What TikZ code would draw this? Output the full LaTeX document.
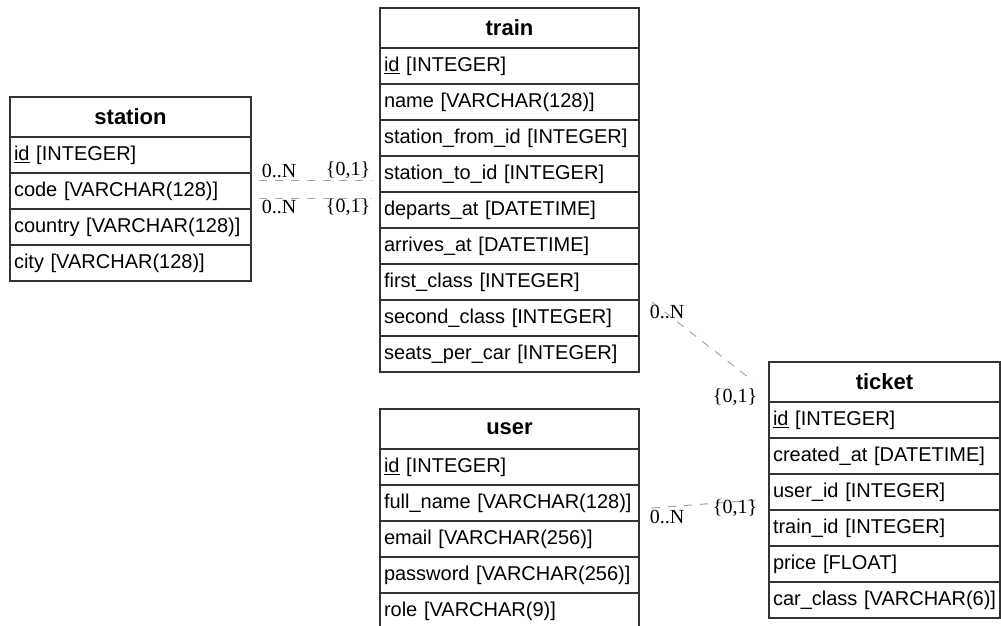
\documentclass[tikz,border=0pt]{standalone}
\usepackage{fontspec}
\setmainfont{Liberation Sans}
\newfontfamily\cardfont{Liberation Serif}
\usetikzlibrary{positioning,calc}
\tikzset{
  field/.style={draw=black!80, line width=1.1pt, rectangle, outer sep=0pt, inner xsep=4pt, inner ysep=0pt, minimum height=36pt, align=left, font=\fontsize{20}{24}\selectfont},
  head/.style={field, minimum height=40pt, align=center, font=\fontsize{22}{26}\selectfont\bfseries},
  rel/.style={draw=black!35, line width=1pt, dash pattern=on 8pt off 8pt},
  card/.style={font=\cardfont\fontsize{20}{23}\selectfont, inner sep=0pt},
}

\begin{document}
\begin{tikzpicture}[x=1pt,y=-1pt]
    \useasboundingbox (0,0) rectangle (1001,625);

    % station
    \node[head, text width=233pt, anchor=north west] (station) at (10,97) {station};
    \node[field, text width=233pt, below=0pt of station] (station-id) {\underline{id} [INTEGER]};
    \node[field, text width=233pt, below=0pt of station-id] (station-code) {code [VARCHAR(128)]};
    \node[field, text width=233pt, below=0pt of station-code] (station-country) {country [VARCHAR(128)]};
    \node[field, text width=233pt, below=0pt of station-country] (station-city) {city [VARCHAR(128)]};

    % train
    \node[head, text width=251pt, anchor=north west] (train) at (380,8) {train};
    \node[field, text width=251pt, below=0pt of train] (train-id) {\underline{id} [INTEGER]};
    \node[field, text width=251pt, below=0pt of train-id] (train-name) {name [VARCHAR(128)]};
    \node[field, text width=251pt, below=0pt of train-name] (train-from) {station\_from\_id [INTEGER]};
    \node[field, text width=251pt, below=0pt of train-from] (train-to) {station\_to\_id [INTEGER]};
    \node[field, text width=251pt, below=0pt of train-to] (train-dep) {departs\_at [DATETIME]};
    \node[field, text width=251pt, below=0pt of train-dep] (train-arr) {arrives\_at [DATETIME]};
    \node[field, text width=251pt, below=0pt of train-arr] (train-first) {first\_class [INTEGER]};
    \node[field, text width=251pt, below=0pt of train-first] (train-second) {second\_class [INTEGER]};
    \node[field, text width=251pt, below=0pt of train-second] (train-seats) {seats\_per\_car [INTEGER]};

    % user
    \node[head, text width=251pt, anchor=north west] (user) at (380,409) {user};
    \node[field, text width=251pt, below=0pt of user] (user-id) {\underline{id} [INTEGER]};
    \node[field, text width=251pt, below=0pt of user-id] (user-name) {full\_name [VARCHAR(128)]};
    \node[field, text width=251pt, below=0pt of user-name] (user-email) {email [VARCHAR(256)]};
    \node[field, text width=251pt, below=0pt of user-email] (user-pass) {password [VARCHAR(256)]};
    \node[field, text width=251pt, below=0pt of user-pass] (user-role) {role [VARCHAR(9)]};

    % ticket
    \node[head, text width=223pt, anchor=north west] (ticket) at (769,362) {ticket};
    \node[field, text width=223pt, below=0pt of ticket] (ticket-id) {\underline{id} [INTEGER]};
    \node[field, text width=223pt, below=0pt of ticket-id] (ticket-created) {created\_at [DATETIME]};
    \node[field, text width=223pt, below=0pt of ticket-created] (ticket-user) {user\_id [INTEGER]};
    \node[field, text width=223pt, below=0pt of ticket-user] (ticket-train) {train\_id [INTEGER]};
    \node[field, text width=223pt, below=0pt of ticket-train] (ticket-price) {price [FLOAT]};
    \node[field, text width=223pt, below=0pt of ticket-price] (ticket-class) {\mbox{car\_class [VARCHAR(6)]}};

    % relation ends
    \coordinate (from-a) at ($(station-code.east)+(8,-11)$);
    \coordinate (from-b) at ($(from-a -| train.west)+(-8,0)$);
    \coordinate (to-a) at ($(station-code.east)+(8,7)$);
    \coordinate (to-b) at ($(to-a -| train.west)+(-8,0)$);
    \coordinate (tt-a) at ($(train-second.east)+(13,-16)$);
    \coordinate (tt-b) at ($(ticket.west)+(-16,-1)$);
    \coordinate (ut-a) at ($(user-name.east)+(13,5)$);
    \coordinate (ut-b) at ($(ticket-user.west)+(-12,8)$);

    \draw[rel] (from-a) -- (from-b);
    \draw[rel] (to-a) -- (to-b);
    \draw[rel] (tt-a) -- (tt-b);
    \draw[rel] (ut-a) -- (ut-b);

    % cardinalities
    \node[card] (from-n) at (279,171) {0..N};
    \node[card] (from-one) at (348,170) {\{0,1\}};
    \node[card] (to-n) at (279,207) {0..N};
    \node[card] (to-one) at (348,207) {\{0,1\}};
    \node[card] (tt-n) at (667,312) {0..N};
    \node[card] (tt-one) at (735,397) {\{0,1\}};
    \node[card] (ut-n) at (667,517) {0..N};
    \node[card] (ut-one) at (735,508) {\{0,1\}};
\end{tikzpicture}
\end{document}
